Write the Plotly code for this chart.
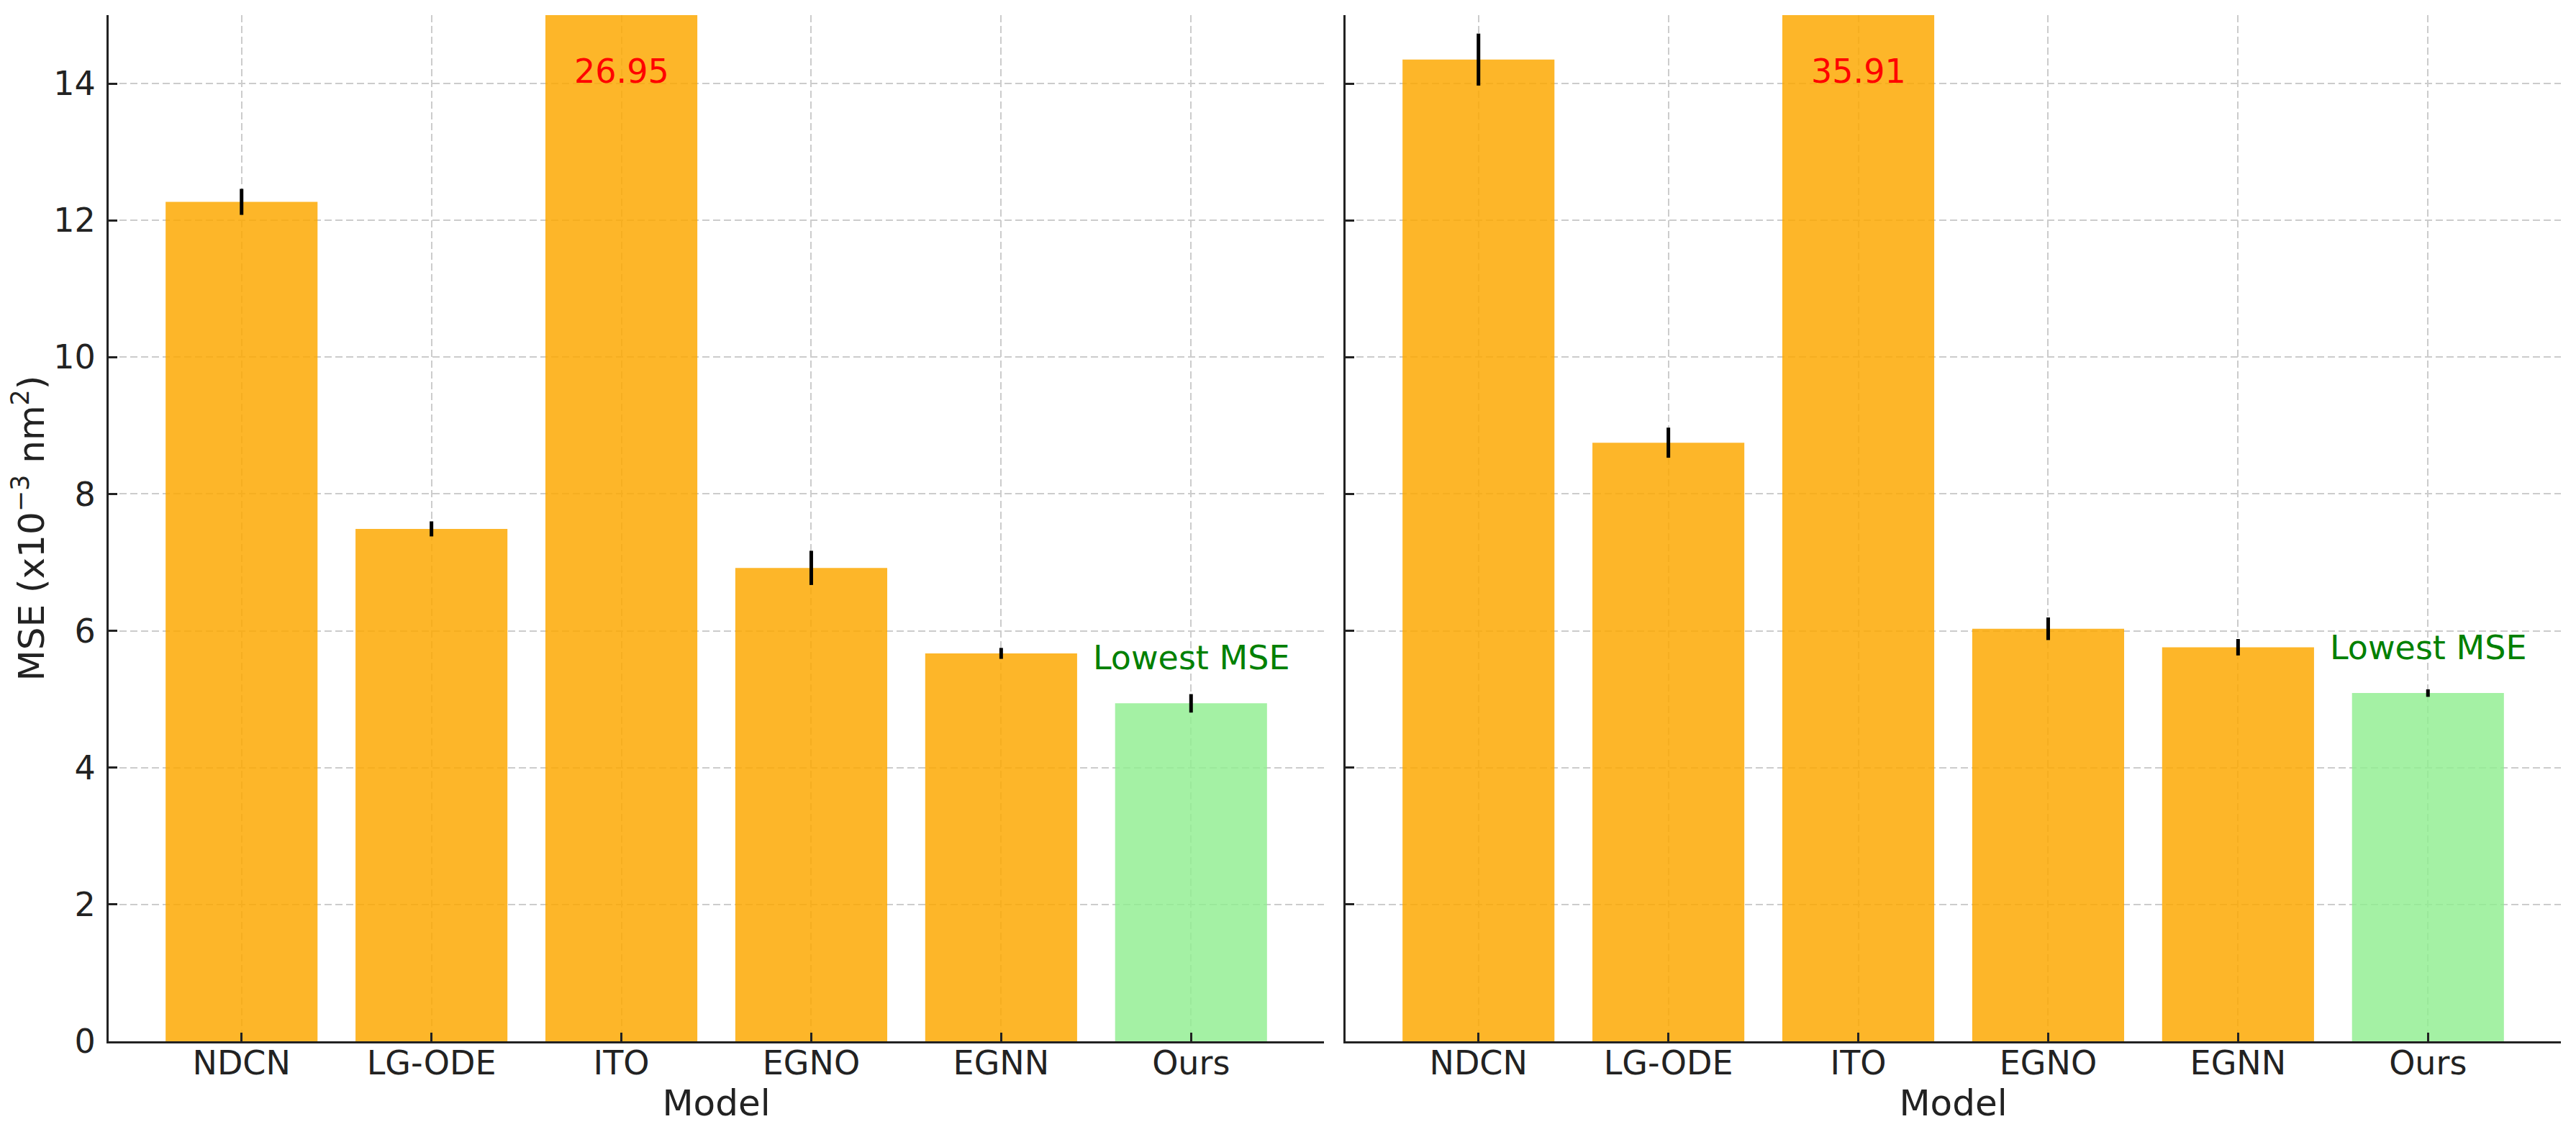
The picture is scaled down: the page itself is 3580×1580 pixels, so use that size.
"""MSE comparison of models, two datasets side by side"""

import plotly.graph_objects as go
from plotly.subplots import make_subplots

models = ["NDCN", "LG-ODE", "ITO", "EGNO", "EGNN", "Ours"]

# left panel
mse_left = [12.27, 7.49, 26.95, 6.92, 5.67, 4.94]
err_left = [0.19, 0.11, 0.20, 0.25, 0.08, 0.135]

# right panel
mse_right = [14.35, 8.75, 35.91, 6.03, 5.76, 5.09]
err_right = [0.38, 0.22, 0.20, 0.165, 0.12, 0.055]

y_max = 15.0
font_family = "DejaVu Sans"
text_color = "#222222"

orange = "rgba(253,168,0,0.84)"
green = "rgba(144,238,144,0.82)"

fig = make_subplots(rows=1, cols=2, shared_yaxes=True, horizontal_spacing=0.0088)

panels = [(mse_left, err_left), (mse_right, err_right)]
for col, (vals, errs) in enumerate(panels, start=1):
    colors = [green if m == "Ours" else orange for m in models]
    fig.add_trace(
        go.Bar(
            x=models,
            y=vals,
            marker=dict(color=colors, line=dict(width=0)),
            error_y=dict(type="data", array=errs, visible=True,
                         color="black", thickness=5, width=0),
            showlegend=False,
            hoverinfo="none",
        ),
        row=1, col=col,
    )

    # clipped bar: print its real value
    i_max = vals.index(max(vals))
    if vals[i_max] > y_max:
        fig.add_annotation(
            x=models[i_max], y=13.87,
            text="%.2f" % vals[i_max],
            showarrow=False, yanchor="bottom",
            font=dict(color="red", size=46, family=font_family),
            row=1, col=col,
        )

    # lowest value
    i_min = vals.index(min(vals))
    fig.add_annotation(
        x=models[i_min], y=vals[i_min] + 0.36,
        text="Lowest MSE",
        showarrow=False, yanchor="bottom",
        font=dict(color="green", size=46, family=font_family),
        row=1, col=col,
    )

# page body adds an 8px offset, margins account for it
fig.update_layout(
    width=3580,
    height=1580,
    paper_bgcolor="white",
    plot_bgcolor="white",
    margin=dict(l=143, r=29, t=13, b=141, pad=0),
    bargap=0.2,
    font=dict(family=font_family, color=text_color, size=46),
)

fig.update_xaxes(
    type="category",
    range=[-0.7, 5.7],
    automargin=False,
    showline=True,
    linecolor=text_color,
    linewidth=3,
    ticks="inside",
    ticklen=12,
    tickwidth=3,
    tickcolor=text_color,
    tickfont=dict(size=46, family=font_family, color=text_color),
    ticklabelstandoff=-12,
    showgrid=True,
    gridcolor="#cccccc",
    gridwidth=2,
    griddash="10px,5px",
    title=dict(text="Model", font=dict(size=50, family=font_family, color=text_color),
               standoff=8),
    zeroline=False,
)

fig.update_yaxes(
    range=[0, y_max],
    dtick=2,
    automargin=False,
    showline=True,
    linecolor=text_color,
    linewidth=3,
    ticks="inside",
    ticklen=12,
    tickwidth=3,
    tickcolor=text_color,
    tickfont=dict(size=46, family=font_family, color=text_color),
    showgrid=True,
    gridcolor="#cccccc",
    gridwidth=2,
    griddash="10px,5px",
    zeroline=False,
)
fig.update_yaxes(
    title=dict(text="MSE (x10<sup>\u22123</sup> nm<sup>2</sup>)",
               font=dict(size=50, family=font_family, color=text_color),
               standoff=4),
    ticklabelstandoff=6,
    row=1, col=1,
)
fig.update_yaxes(showticklabels=False, row=1, col=2)

fig.write_html("out.html")
